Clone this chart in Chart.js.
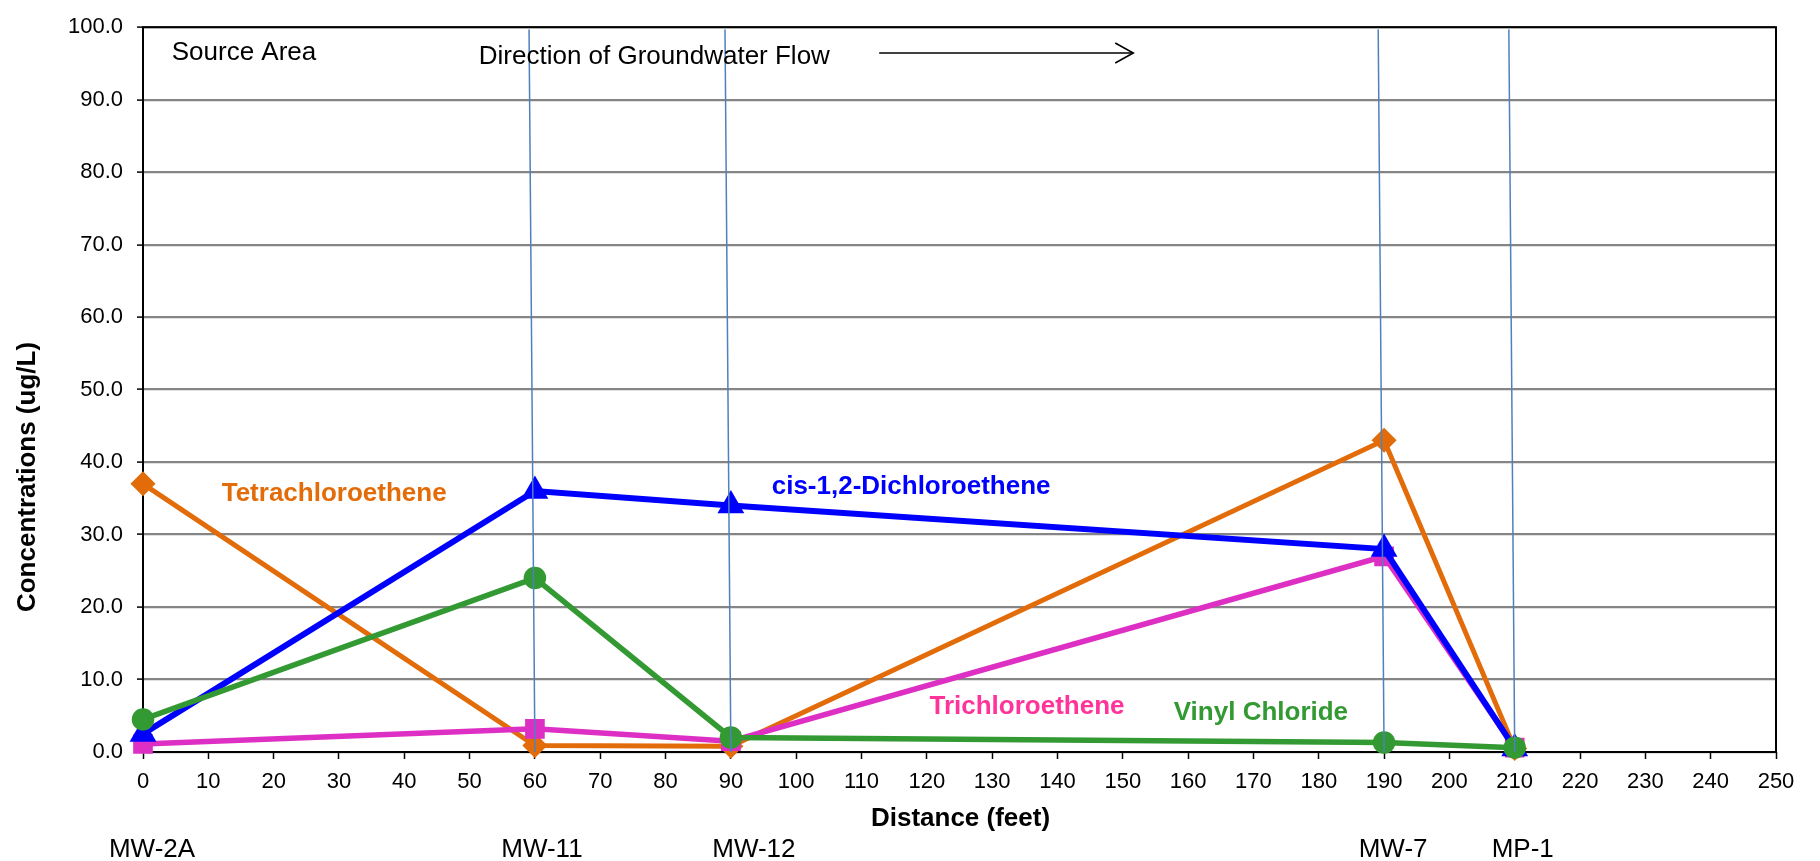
<!DOCTYPE html>
<html>
<head>
<meta charset="utf-8">
<script src="https://cdn.jsdelivr.net/npm/chart.js@4.4.1/dist/chart.umd.min.js"></script>
<style>
html,body{margin:0;padding:0;background:#fff;}
#wrap{width:1820px;height:861px;position:relative;}
</style>
</head>
<body>
<div id="wrap"><canvas id="c" width="1820" height="861"></canvas></div>
<script>
// ---- data ----
const distances = [0, 60, 90, 190, 210];
const wellNames = ['MW-2A', 'MW-11', 'MW-12', 'MW-7', 'MP-1'];
const pce = [37.0, 0.9, 0.8, 43.0, 0.5];   // Tetrachloroethene
const cis = [2.5, 36.0, 34.0, 28.0, 0.5];  // cis-1,2-Dichloroethene
const tce = [1.1, 3.2, 1.5, 27.0, 0.6];    // Trichloroethene
const vc  = [4.5, 24.0, 2.0, 1.3, 0.6];    // Vinyl Chloride
const wellLineDistances = [60, 90, 190, 210];
const yTicks = [0,10,20,30,40,50,60,70,80,90,100];
const xTicks = [0,10,20,30,40,50,60,70,80,90,100,110,120,130,140,150,160,170,180,190,200,210,220,230,240,250];

// ---- styles / layout ----
const FONT = "'Liberation Sans', Arial, Helvetica, sans-serif";
const wellLabelOffsets = [9, 7, 23, 9, 8];
const lean = 0.9;

function pts(vals){ return distances.map((d,i)=>({x:d, y:vals[i]})); }

const datasets = [
  {label:'Tetrachloroethene', data:pts(pce), borderColor:'#e36c0a', backgroundColor:'#e36c0a', borderWidth:5, pointStyle:'rectRot', pointRadius:9, order:4, clip:false},
  {label:'Trichloroethene', data:pts(tce), borderColor:'#dd2fc3', backgroundColor:'#dd2fc3', borderWidth:5.5, pointStyle:'rect', pointRadius:10, order:3, clip:false},
  {label:'cis-1,2-Dichloroethene', data:pts(cis), borderColor:'#0000ff', backgroundColor:'#0000ff', borderWidth:6, pointStyle:'triangle', pointRadius:9.5, order:2, clip:false},
  {label:'Vinyl Chloride', data:pts(vc), borderColor:'#339933', backgroundColor:'#339933', borderWidth:5.5, pointStyle:'circle', pointRadius:8.5, order:1, clip:false}
];
wellLineDistances.forEach(d=>{
  datasets.push({label:'well', data:[{x:d-lean,y:99.7},{x:d,y:0}], borderColor:'#4f81bd', borderWidth:1.5, pointRadius:0, order:0});
});

const annotations = [
  {text:'Source Area', x:4.4, y:95.5, bold:false, color:'#000'},
  {text:'Direction of Groundwater Flow', x:51.4, y:94.9, bold:false, color:'#000'},
  {text:'Tetrachloroethene', x:12.05, y:34.66, bold:true, color:'#e36c09'},
  {text:'cis-1,2-Dichloroethene', x:96.25, y:35.66, bold:true, color:'#0000ff'},
  {text:'Trichloroethene', x:120.4, y:5.26, bold:true, color:'#ff3399'},
  {text:'Vinyl Chloride', x:157.8, y:4.47, bold:true, color:'#339933'}
];
const arrow = {x1:112.7, x2:151.6, y:96.45};

const overlay = {
  id:'overlay',
  beforeDatasetsDraw(chart){
    const ctx = chart.ctx, a = chart.chartArea;
    ctx.save();
    ctx.strokeStyle = '#000'; ctx.lineWidth = 2;
    ctx.strokeRect(a.left, a.top, a.right-a.left, a.bottom-a.top);
    ctx.restore();
  },
  afterDatasetsDraw(chart){
    const ctx = chart.ctx, xs = chart.scales.x, ys = chart.scales.y, a = chart.chartArea;
    ctx.save();
    ctx.textBaseline = 'alphabetic';
    ctx.textAlign = 'left';
    annotations.forEach(t=>{
      ctx.font = (t.bold?'bold ':'') + '26px ' + FONT;
      ctx.fillStyle = t.color;
      ctx.fillText(t.text, xs.getPixelForValue(t.x), ys.getPixelForValue(t.y));
    });
    // arrow
    const ax1 = xs.getPixelForValue(arrow.x1), ax2 = xs.getPixelForValue(arrow.x2), ay = ys.getPixelForValue(arrow.y);
    ctx.strokeStyle = '#000'; ctx.lineWidth = 1.6;
    ctx.beginPath(); ctx.moveTo(ax1, ay); ctx.lineTo(ax2, ay); ctx.stroke();
    ctx.beginPath(); ctx.moveTo(ax2-18, ay-10); ctx.lineTo(ax2, ay); ctx.lineTo(ax2-18, ay+10); ctx.stroke();
    // well labels
    ctx.font = '26px ' + FONT;
    ctx.fillStyle = '#000';
    ctx.textAlign = 'center';
    distances.forEach((d,i)=>{
      ctx.fillText(wellNames[i], xs.getPixelForValue(d) + wellLabelOffsets[i], a.bottom + 105);
    });
    // x title
    ctx.font = 'bold 26px ' + FONT;
    ctx.fillText('Distance (feet)', (a.left+a.right)/2 + 1, a.bottom + 74);
    // y title
    ctx.translate(35, 477);
    ctx.rotate(-Math.PI/2);
    ctx.fillText('Concentrations (ug/L)', 0, 0);
    ctx.restore();
  }
};

new Chart(document.getElementById('c'), {
  type:'line',
  data:{datasets},
  options:{
    responsive:false,
    animation:false,
    layout:{padding:{left:0, top:20, right:44, bottom:0}},
    plugins:{legend:{display:false}, tooltip:{enabled:false}},
    elements:{line:{tension:0}},
    scales:{
      x:{
        type:'linear', min:0, max:250,
        afterBuildTicks(s){ s.ticks = xTicks.map(v=>({value:v})); },
        afterFit(s){ s.height = 109; },
        ticks:{font:{family:FONT, size:22}, color:'#000', padding:10, maxRotation:0, autoSkip:false},
        grid:{drawOnChartArea:false, drawTicks:true, tickLength:7, tickColor:'#000', tickWidth:1.5},
        border:{display:false}
      },
      y:{
        min:0, max:100,
        afterBuildTicks(s){ s.ticks = yTicks.map(v=>({value:v})); },
        afterFit(s){ s.width = 143; },
        ticks:{font:{family:FONT, size:22}, color:'#000', padding:14, callback:v=>Number(v).toFixed(1)},
        grid:{color:'#858585', lineWidth:2.2, drawTicks:true, tickLength:6, tickColor:'#000', tickWidth:1.5},
        border:{display:false}
      }
    }
  },
  plugins:[overlay]
});
</script>
</body>
</html>
